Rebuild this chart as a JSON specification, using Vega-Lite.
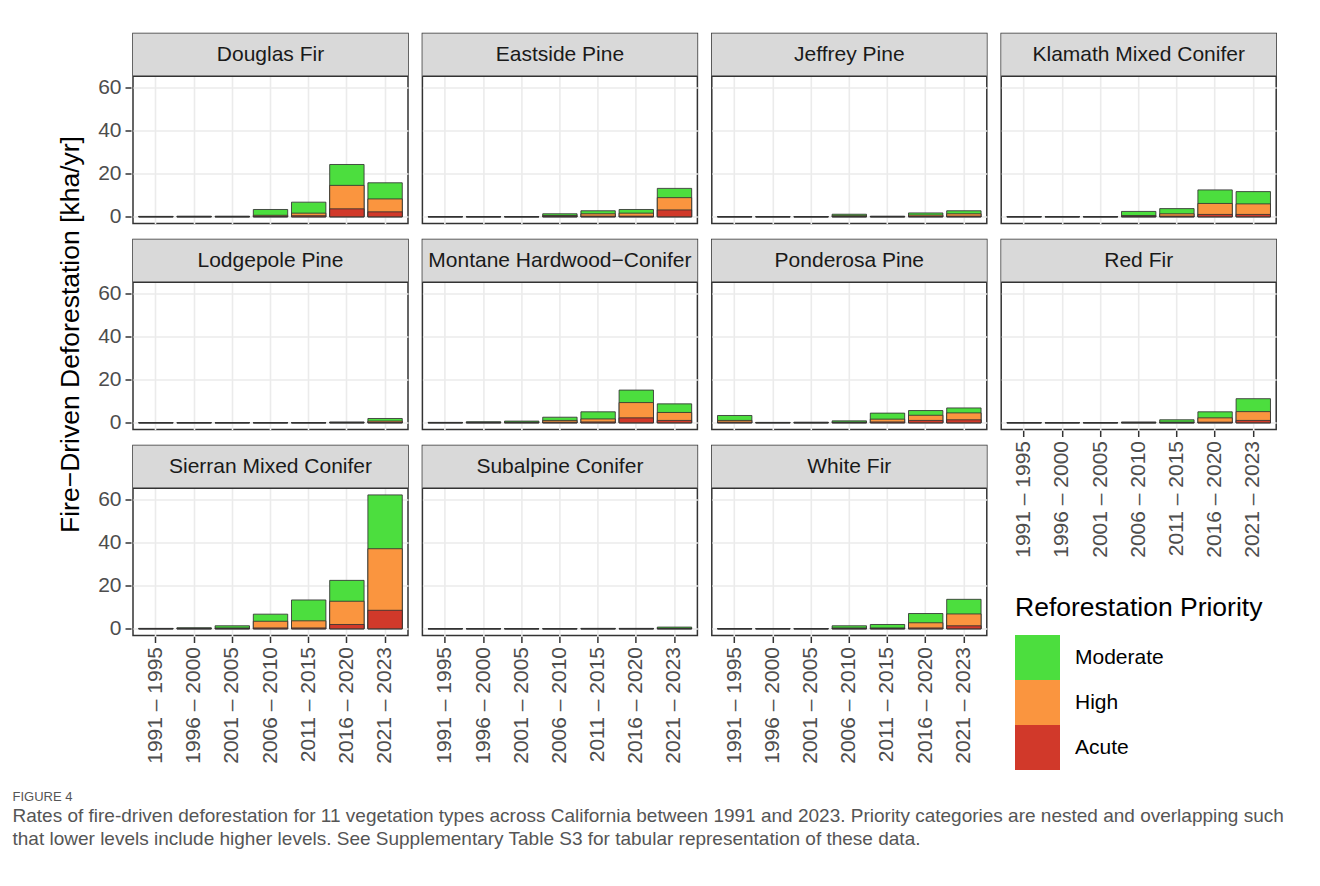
{
  "$schema": "https://vega.github.io/schema/vega-lite/v6.json",
  "background": "white",
  "padding": {"left": 12, "top": 32.5, "right": 5, "bottom": 5},
  "title": {
    "text": "FIGURE 4",
    "subtitle": [
      "Rates of fire-driven deforestation for 11 vegetation types across California between 1991 and 2023. Priority categories are nested and overlapping such",
      "that lower levels include higher levels. See Supplementary Table S3 for tabular representation of these data."
    ],
    "orient": "bottom",
    "anchor": "start",
    "frame": "bounds",
    "dx": -45,
    "offset": 20,
    "font": "Liberation Sans",
    "fontSize": 13,
    "fontWeight": "normal",
    "color": "#555555",
    "subtitleFont": "Liberation Sans",
    "subtitleFontSize": 19,
    "subtitleColor": "#555555",
    "subtitleLineHeight": 23,
    "subtitlePadding": 3
  },
  "data": {
    "values": [
      {"type": "Douglas Fir", "period": "1991 – 1995", "Moderate": 0.2, "High": 0.1, "Acute": 0.05},
      {"type": "Douglas Fir", "period": "1996 – 2000", "Moderate": 0.3, "High": 0.1, "Acute": 0.05},
      {"type": "Douglas Fir", "period": "2001 – 2005", "Moderate": 0.3, "High": 0.1, "Acute": 0.05},
      {"type": "Douglas Fir", "period": "2006 – 2010", "Moderate": 3.4, "High": 0.7, "Acute": 0.2},
      {"type": "Douglas Fir", "period": "2011 – 2015", "Moderate": 6.8, "High": 1.7, "Acute": 0.5},
      {"type": "Douglas Fir", "period": "2016 – 2020", "Moderate": 24.3, "High": 14.6, "Acute": 3.7},
      {"type": "Douglas Fir", "period": "2021 – 2023", "Moderate": 15.8, "High": 8.3, "Acute": 2.3},

      {"type": "Eastside Pine", "period": "1991 – 1995", "Moderate": 0.1, "High": 0.05, "Acute": 0.02},
      {"type": "Eastside Pine", "period": "1996 – 2000", "Moderate": 0.1, "High": 0.05, "Acute": 0.02},
      {"type": "Eastside Pine", "period": "2001 – 2005", "Moderate": 0.1, "High": 0.05, "Acute": 0.02},
      {"type": "Eastside Pine", "period": "2006 – 2010", "Moderate": 1.4, "High": 0.6, "Acute": 0.2},
      {"type": "Eastside Pine", "period": "2011 – 2015", "Moderate": 2.8, "High": 1.4, "Acute": 0.3},
      {"type": "Eastside Pine", "period": "2016 – 2020", "Moderate": 3.4, "High": 1.7, "Acute": 0.3},
      {"type": "Eastside Pine", "period": "2021 – 2023", "Moderate": 13.2, "High": 8.9, "Acute": 3.2},

      {"type": "Jeffrey Pine", "period": "1991 – 1995", "Moderate": 0.1, "High": 0.05, "Acute": 0.02},
      {"type": "Jeffrey Pine", "period": "1996 – 2000", "Moderate": 0.1, "High": 0.05, "Acute": 0.02},
      {"type": "Jeffrey Pine", "period": "2001 – 2005", "Moderate": 0.1, "High": 0.05, "Acute": 0.02},
      {"type": "Jeffrey Pine", "period": "2006 – 2010", "Moderate": 1.2, "High": 0.5, "Acute": 0.1},
      {"type": "Jeffrey Pine", "period": "2011 – 2015", "Moderate": 0.3, "High": 0.1, "Acute": 0.05},
      {"type": "Jeffrey Pine", "period": "2016 – 2020", "Moderate": 1.8, "High": 0.8, "Acute": 0.2},
      {"type": "Jeffrey Pine", "period": "2021 – 2023", "Moderate": 2.8, "High": 1.4, "Acute": 0.3},

      {"type": "Klamath Mixed Conifer", "period": "1991 – 1995", "Moderate": 0.1, "High": 0.05, "Acute": 0.02},
      {"type": "Klamath Mixed Conifer", "period": "1996 – 2000", "Moderate": 0.1, "High": 0.05, "Acute": 0.02},
      {"type": "Klamath Mixed Conifer", "period": "2001 – 2005", "Moderate": 0.1, "High": 0.05, "Acute": 0.02},
      {"type": "Klamath Mixed Conifer", "period": "2006 – 2010", "Moderate": 2.5, "High": 0.6, "Acute": 0.2},
      {"type": "Klamath Mixed Conifer", "period": "2011 – 2015", "Moderate": 3.8, "High": 1.4, "Acute": 0.3},
      {"type": "Klamath Mixed Conifer", "period": "2016 – 2020", "Moderate": 12.5, "High": 6.2, "Acute": 1.1},
      {"type": "Klamath Mixed Conifer", "period": "2021 – 2023", "Moderate": 11.7, "High": 6.0, "Acute": 1.1},

      {"type": "Lodgepole Pine", "period": "1991 – 1995", "Moderate": 0.1, "High": 0.05, "Acute": 0.02},
      {"type": "Lodgepole Pine", "period": "1996 – 2000", "Moderate": 0.1, "High": 0.05, "Acute": 0.02},
      {"type": "Lodgepole Pine", "period": "2001 – 2005", "Moderate": 0.1, "High": 0.05, "Acute": 0.02},
      {"type": "Lodgepole Pine", "period": "2006 – 2010", "Moderate": 0.1, "High": 0.05, "Acute": 0.02},
      {"type": "Lodgepole Pine", "period": "2011 – 2015", "Moderate": 0.1, "High": 0.05, "Acute": 0.02},
      {"type": "Lodgepole Pine", "period": "2016 – 2020", "Moderate": 0.4, "High": 0.15, "Acute": 0.05},
      {"type": "Lodgepole Pine", "period": "2021 – 2023", "Moderate": 2.0, "High": 0.8, "Acute": 0.2},

      {"type": "Montane Hardwood−Conifer", "period": "1991 – 1995", "Moderate": 0.2, "High": 0.1, "Acute": 0.03},
      {"type": "Montane Hardwood−Conifer", "period": "1996 – 2000", "Moderate": 0.5, "High": 0.2, "Acute": 0.05},
      {"type": "Montane Hardwood−Conifer", "period": "2001 – 2005", "Moderate": 0.8, "High": 0.3, "Acute": 0.1},
      {"type": "Montane Hardwood−Conifer", "period": "2006 – 2010", "Moderate": 2.6, "High": 1.1, "Acute": 0.3},
      {"type": "Montane Hardwood−Conifer", "period": "2011 – 2015", "Moderate": 5.1, "High": 1.8, "Acute": 0.4},
      {"type": "Montane Hardwood−Conifer", "period": "2016 – 2020", "Moderate": 15.2, "High": 9.4, "Acute": 2.3},
      {"type": "Montane Hardwood−Conifer", "period": "2021 – 2023", "Moderate": 8.8, "High": 4.8, "Acute": 1.1},

      {"type": "Ponderosa Pine", "period": "1991 – 1995", "Moderate": 3.4, "High": 1.1, "Acute": 0.3},
      {"type": "Ponderosa Pine", "period": "1996 – 2000", "Moderate": 0.2, "High": 0.1, "Acute": 0.03},
      {"type": "Ponderosa Pine", "period": "2001 – 2005", "Moderate": 0.3, "High": 0.1, "Acute": 0.03},
      {"type": "Ponderosa Pine", "period": "2006 – 2010", "Moderate": 0.9, "High": 0.3, "Acute": 0.1},
      {"type": "Ponderosa Pine", "period": "2011 – 2015", "Moderate": 4.5, "High": 1.7, "Acute": 0.4},
      {"type": "Ponderosa Pine", "period": "2016 – 2020", "Moderate": 5.7, "High": 3.5, "Acute": 1.1},
      {"type": "Ponderosa Pine", "period": "2021 – 2023", "Moderate": 6.9, "High": 4.6, "Acute": 1.4},

      {"type": "Red Fir", "period": "1991 – 1995", "Moderate": 0.1, "High": 0.05, "Acute": 0.02},
      {"type": "Red Fir", "period": "1996 – 2000", "Moderate": 0.1, "High": 0.05, "Acute": 0.02},
      {"type": "Red Fir", "period": "2001 – 2005", "Moderate": 0.1, "High": 0.05, "Acute": 0.02},
      {"type": "Red Fir", "period": "2006 – 2010", "Moderate": 0.4, "High": 0.1, "Acute": 0.03},
      {"type": "Red Fir", "period": "2011 – 2015", "Moderate": 1.4, "High": 0.3, "Acute": 0.05},
      {"type": "Red Fir", "period": "2016 – 2020", "Moderate": 5.1, "High": 2.3, "Acute": 0.3},
      {"type": "Red Fir", "period": "2021 – 2023", "Moderate": 11.2, "High": 5.2, "Acute": 1.1},

      {"type": "Sierran Mixed Conifer", "period": "1991 – 1995", "Moderate": 0.2, "High": 0.1, "Acute": 0.02},
      {"type": "Sierran Mixed Conifer", "period": "1996 – 2000", "Moderate": 0.5, "High": 0.2, "Acute": 0.05},
      {"type": "Sierran Mixed Conifer", "period": "2001 – 2005", "Moderate": 1.4, "High": 0.4, "Acute": 0.1},
      {"type": "Sierran Mixed Conifer", "period": "2006 – 2010", "Moderate": 6.8, "High": 3.5, "Acute": 0.4},
      {"type": "Sierran Mixed Conifer", "period": "2011 – 2015", "Moderate": 13.4, "High": 3.7, "Acute": 0.4},
      {"type": "Sierran Mixed Conifer", "period": "2016 – 2020", "Moderate": 22.5, "High": 12.8, "Acute": 2.0},
      {"type": "Sierran Mixed Conifer", "period": "2021 – 2023", "Moderate": 62.2, "High": 37.2, "Acute": 8.6},

      {"type": "Subalpine Conifer", "period": "1991 – 1995", "Moderate": 0.1, "High": 0.03, "Acute": 0.01},
      {"type": "Subalpine Conifer", "period": "1996 – 2000", "Moderate": 0.1, "High": 0.03, "Acute": 0.01},
      {"type": "Subalpine Conifer", "period": "2001 – 2005", "Moderate": 0.1, "High": 0.03, "Acute": 0.01},
      {"type": "Subalpine Conifer", "period": "2006 – 2010", "Moderate": 0.1, "High": 0.03, "Acute": 0.01},
      {"type": "Subalpine Conifer", "period": "2011 – 2015", "Moderate": 0.2, "High": 0.05, "Acute": 0.02},
      {"type": "Subalpine Conifer", "period": "2016 – 2020", "Moderate": 0.2, "High": 0.05, "Acute": 0.02},
      {"type": "Subalpine Conifer", "period": "2021 – 2023", "Moderate": 0.8, "High": 0.2, "Acute": 0.05},

      {"type": "White Fir", "period": "1991 – 1995", "Moderate": 0.1, "High": 0.05, "Acute": 0.02},
      {"type": "White Fir", "period": "1996 – 2000", "Moderate": 0.1, "High": 0.05, "Acute": 0.02},
      {"type": "White Fir", "period": "2001 – 2005", "Moderate": 0.1, "High": 0.05, "Acute": 0.02},
      {"type": "White Fir", "period": "2006 – 2010", "Moderate": 1.4, "High": 0.4, "Acute": 0.1},
      {"type": "White Fir", "period": "2011 – 2015", "Moderate": 2.0, "High": 0.4, "Acute": 0.1},
      {"type": "White Fir", "period": "2016 – 2020", "Moderate": 7.1, "High": 2.8, "Acute": 0.4},
      {"type": "White Fir", "period": "2021 – 2023", "Moderate": 13.7, "High": 6.9, "Acute": 1.4}
    ]
  },
  "transform": [
    {"fold": ["Moderate", "High", "Acute"], "as": ["priority", "kha"]}
  ],
  "resolve": {"scale": {"color": "shared"}, "legend": {"color": "shared"}},
  "spacing": 10.4,
  "hconcat": [
    {
      "transform": [{"filter": {"field": "type", "oneOf": ["Douglas Fir", "Lodgepole Pine", "Sierran Mixed Conifer"]}}],
      "facet": {
        "row": {
          "field": "type",
          "type": "nominal",
          "header": {
            "title": "Fire−Driven Deforestation [kha/yr]",
            "titleOrient": "left",
            "titleFontSize": 26.5,
            "titleFontWeight": "normal",
            "titleColor": "#000000",
            "titlePadding": 3,
            "labels": false
          }
        }
      },
      "spacing": {"row": 14},
      "spec": {
        "width": 275,
        "height": 190,
        "layer": [
          {
            "mark": {"type": "bar", "stroke": "#333333", "strokeWidth": 1, "strokeOpacity": 0.85},
            "encoding": {
              "x": {"field": "period", "type": "nominal", "sort": null, "title": null,
                    "scale": {"domain": ["1991 – 1995", "1996 – 2000", "2001 – 2005", "2006 – 2010", "2011 – 2015", "2016 – 2020", "2021 – 2023"], "paddingInner": 0.1, "paddingOuter": 0.15},
                    "axis": {"bandPosition": 0.5, "labelAngle": 270, "grid": true}},
              "y": {"field": "kha", "type": "quantitative", "stack": null, "title": null,
                    "scale": {"domain": [-3.11, 85.15], "nice": false, "zero": false},
                    "axis": {
                      "values": [0, 10, 20, 30, 40, 50, 60],
                      "labelExpr": "datum.value % 20 === 0 ? datum.label : ''",
                      "tickOpacity": {"condition": {"test": "datum.value % 20 !== 0", "value": 0}, "value": 1},
                      "gridWidth": {"condition": {"test": "datum.value % 20 !== 0", "value": 0.8}, "value": 1.6}
                    }},
              "color": {"field": "priority", "type": "nominal",
                        "scale": {"domain": ["Moderate", "High", "Acute"], "range": ["#4CDE3E", "#FA953F", "#D1392A"]},
                        "legend": {"title": "Reforestation Priority", "orient": "none", "legendX": 882, "legendY": 561}},
              "order": {"field": "priority", "type": "ordinal", "sort": "descending"}
            }
          },
          {
            "transform": [{"filter": "datum.priority === 'Moderate' && datum.period === '1991 – 1995'"}],
            "mark": {"type": "rect", "fill": "#D9D9D9"},
            "encoding": {"y": {"datum": 65.31}, "y2": {"datum": 85.15}}
          },
          {
            "transform": [{"filter": "datum.priority === 'Moderate' && datum.period === '1991 – 1995'"}],
            "mark": {"type": "rule", "stroke": "#333333", "strokeWidth": 1.5},
            "encoding": {"y": {"datum": 65.31}}
          },
          {
            "transform": [{"filter": "datum.priority === 'Moderate' && datum.period === '1991 – 1995'"}],
            "mark": {"type": "text", "fontSize": 21, "color": "#1A1A1A", "baseline": "middle", "align": "center"},
            "encoding": {"y": {"datum": 75.23}, "text": {"field": "type"}}
          }
        ]
      }
    },
    {
      "transform": [{"filter": {"field": "type", "oneOf": ["Eastside Pine", "Montane Hardwood−Conifer", "Subalpine Conifer"]}}],
      "facet": {"row": {"field": "type", "type": "nominal", "header": {"title": null, "labels": false}}},
      "spacing": {"row": 14},
      "spec": {
        "width": 275,
        "height": 190,
        "layer": [
          {
            "mark": {"type": "bar", "stroke": "#333333", "strokeWidth": 1, "strokeOpacity": 0.85},
            "encoding": {
              "x": {"field": "period", "type": "nominal", "sort": null, "title": null,
                    "scale": {"domain": ["1991 – 1995", "1996 – 2000", "2001 – 2005", "2006 – 2010", "2011 – 2015", "2016 – 2020", "2021 – 2023"], "paddingInner": 0.1, "paddingOuter": 0.15},
                    "axis": {"bandPosition": 0.5, "labelAngle": 270, "grid": true}},
              "y": {"field": "kha", "type": "quantitative", "stack": null, "title": null,
                    "scale": {"domain": [-3.11, 85.15], "nice": false, "zero": false},
                    "axis": {
                      "values": [0, 10, 20, 30, 40, 50, 60],
                      "labels": false,
                      "ticks": false,
                      "gridWidth": {"condition": {"test": "datum.value % 20 !== 0", "value": 0.8}, "value": 1.6}
                    }},
              "color": {"field": "priority", "type": "nominal",
                        "scale": {"domain": ["Moderate", "High", "Acute"], "range": ["#4CDE3E", "#FA953F", "#D1392A"]}},
              "order": {"field": "priority", "type": "ordinal", "sort": "descending"}
            }
          },
          {
            "transform": [{"filter": "datum.priority === 'Moderate' && datum.period === '1991 – 1995'"}],
            "mark": {"type": "rect", "fill": "#D9D9D9"},
            "encoding": {"y": {"datum": 65.31}, "y2": {"datum": 85.15}}
          },
          {
            "transform": [{"filter": "datum.priority === 'Moderate' && datum.period === '1991 – 1995'"}],
            "mark": {"type": "rule", "stroke": "#333333", "strokeWidth": 1.5},
            "encoding": {"y": {"datum": 65.31}}
          },
          {
            "transform": [{"filter": "datum.priority === 'Moderate' && datum.period === '1991 – 1995'"}],
            "mark": {"type": "text", "fontSize": 21, "color": "#1A1A1A", "baseline": "middle", "align": "center"},
            "encoding": {"y": {"datum": 75.23}, "text": {"field": "type"}}
          }
        ]
      }
    },
    {
      "transform": [{"filter": {"field": "type", "oneOf": ["Jeffrey Pine", "Ponderosa Pine", "White Fir"]}}],
      "facet": {"row": {"field": "type", "type": "nominal", "header": {"title": null, "labels": false}}},
      "spacing": {"row": 14},
      "spec": {
        "width": 275,
        "height": 190,
        "layer": [
          {
            "mark": {"type": "bar", "stroke": "#333333", "strokeWidth": 1, "strokeOpacity": 0.85},
            "encoding": {
              "x": {"field": "period", "type": "nominal", "sort": null, "title": null,
                    "scale": {"domain": ["1991 – 1995", "1996 – 2000", "2001 – 2005", "2006 – 2010", "2011 – 2015", "2016 – 2020", "2021 – 2023"], "paddingInner": 0.1, "paddingOuter": 0.15},
                    "axis": {"bandPosition": 0.5, "labelAngle": 270, "grid": true}},
              "y": {"field": "kha", "type": "quantitative", "stack": null, "title": null,
                    "scale": {"domain": [-3.11, 85.15], "nice": false, "zero": false},
                    "axis": {
                      "values": [0, 10, 20, 30, 40, 50, 60],
                      "labels": false,
                      "ticks": false,
                      "gridWidth": {"condition": {"test": "datum.value % 20 !== 0", "value": 0.8}, "value": 1.6}
                    }},
              "color": {"field": "priority", "type": "nominal",
                        "scale": {"domain": ["Moderate", "High", "Acute"], "range": ["#4CDE3E", "#FA953F", "#D1392A"]}},
              "order": {"field": "priority", "type": "ordinal", "sort": "descending"}
            }
          },
          {
            "transform": [{"filter": "datum.priority === 'Moderate' && datum.period === '1991 – 1995'"}],
            "mark": {"type": "rect", "fill": "#D9D9D9"},
            "encoding": {"y": {"datum": 65.31}, "y2": {"datum": 85.15}}
          },
          {
            "transform": [{"filter": "datum.priority === 'Moderate' && datum.period === '1991 – 1995'"}],
            "mark": {"type": "rule", "stroke": "#333333", "strokeWidth": 1.5},
            "encoding": {"y": {"datum": 65.31}}
          },
          {
            "transform": [{"filter": "datum.priority === 'Moderate' && datum.period === '1991 – 1995'"}],
            "mark": {"type": "text", "fontSize": 21, "color": "#1A1A1A", "baseline": "middle", "align": "center"},
            "encoding": {"y": {"datum": 75.23}, "text": {"field": "type"}}
          }
        ]
      }
    },
    {
      "transform": [{"filter": {"field": "type", "oneOf": ["Klamath Mixed Conifer", "Red Fir"]}}],
      "facet": {"row": {"field": "type", "type": "nominal", "header": {"title": null, "labels": false}}},
      "spacing": {"row": 14},
      "spec": {
        "width": 275,
        "height": 190,
        "layer": [
          {
            "mark": {"type": "bar", "stroke": "#333333", "strokeWidth": 1, "strokeOpacity": 0.85},
            "encoding": {
              "x": {"field": "period", "type": "nominal", "sort": null, "title": null,
                    "scale": {"domain": ["1991 – 1995", "1996 – 2000", "2001 – 2005", "2006 – 2010", "2011 – 2015", "2016 – 2020", "2021 – 2023"], "paddingInner": 0.1, "paddingOuter": 0.15},
                    "axis": {"bandPosition": 0.5, "labelAngle": 270, "grid": true}},
              "y": {"field": "kha", "type": "quantitative", "stack": null, "title": null,
                    "scale": {"domain": [-3.11, 85.15], "nice": false, "zero": false},
                    "axis": {
                      "values": [0, 10, 20, 30, 40, 50, 60],
                      "labels": false,
                      "ticks": false,
                      "gridWidth": {"condition": {"test": "datum.value % 20 !== 0", "value": 0.8}, "value": 1.6}
                    }},
              "color": {"field": "priority", "type": "nominal",
                        "scale": {"domain": ["Moderate", "High", "Acute"], "range": ["#4CDE3E", "#FA953F", "#D1392A"]}},
              "order": {"field": "priority", "type": "ordinal", "sort": "descending"}
            }
          },
          {
            "transform": [{"filter": "datum.priority === 'Moderate' && datum.period === '1991 – 1995'"}],
            "mark": {"type": "rect", "fill": "#D9D9D9"},
            "encoding": {"y": {"datum": 65.31}, "y2": {"datum": 85.15}}
          },
          {
            "transform": [{"filter": "datum.priority === 'Moderate' && datum.period === '1991 – 1995'"}],
            "mark": {"type": "rule", "stroke": "#333333", "strokeWidth": 1.5},
            "encoding": {"y": {"datum": 65.31}}
          },
          {
            "transform": [{"filter": "datum.priority === 'Moderate' && datum.period === '1991 – 1995'"}],
            "mark": {"type": "text", "fontSize": 21, "color": "#1A1A1A", "baseline": "middle", "align": "center"},
            "encoding": {"y": {"datum": 75.23}, "text": {"field": "type"}}
          }
        ]
      }
    }
  ],
  "config": {
    "font": "Liberation Sans",
    "view": {"stroke": "#333333", "strokeWidth": 1.5},
    "axis": {
      "domain": false,
      "tickSize": 6,
      "tickWidth": 1.5,
      "tickColor": "#333333",
      "labelFontSize": 21,
      "labelColor": "#4D4D4D",
      "labelPadding": 4,
      "gridColor": "#EBEBEB",
      "gridWidth": 1.6
    },
    "legend": {
      "padding": 0,
      "titleFontSize": 26.5,
      "titleFontWeight": "normal",
      "titleColor": "#000000",
      "titlePadding": 14,
      "titleLimit": 500,
      "labelFontSize": 21,
      "labelColor": "#000000",
      "labelOffset": 15,
      "symbolType": "square",
      "symbolSize": 2025,
      "symbolStrokeWidth": 0,
      "symbolOpacity": 1,
      "rowPadding": 0
    }
  }
}
